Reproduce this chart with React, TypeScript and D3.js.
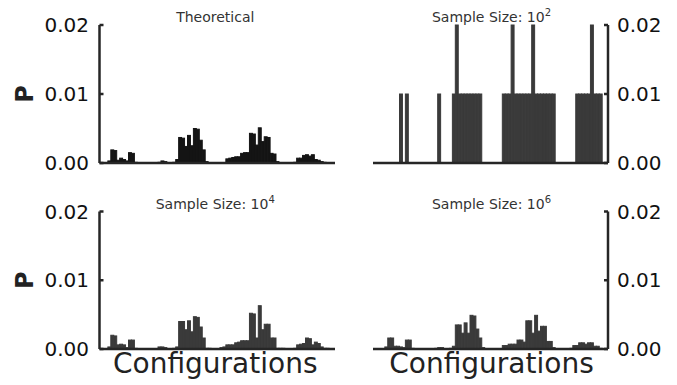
import React from 'react';
import * as d3 from 'd3';

// probabilities per configuration, in units of 1e-4
const UNIT = 1e-4;

const theoretical = [
  0, 0, 0, 3, 19, 18, 4, 7, 5, 3,
  15, 14, 1, 0, 0, 0, 0, 0, 0, 0,
  1, 3, 2, 0, 0, 1, 5, 37, 36, 24,
  40, 25, 50, 49, 33, 19, 2, 0, 0, 0,
  0, 0, 0, 6, 7, 8, 9, 9, 14, 15,
  15, 43, 42, 26, 51, 31, 38, 37, 14, 13,
  2, 0, 0, 0, 0, 0, 1, 7, 7, 11,
  12, 10, 12, 5, 4, 2, 1, 0, 0, 0,
];

const sample1e2 = [
  0, 0, 0, 0, 0, 0, 0, 0, 100, 0,
  100, 0, 0, 0, 0, 0, 0, 0, 0, 0,
  0, 100, 0, 0, 0, 0, 100, 200, 100, 100,
  100, 100, 100, 100, 100, 100, 0, 0, 0, 0,
  0, 0, 0, 100, 100, 100, 200, 100, 100, 100,
  100, 100, 100, 200, 100, 100, 100, 100, 100, 100,
  100, 0, 0, 0, 0, 0, 0, 0, 100, 100,
  100, 100, 100, 200, 100, 100, 100, 0, 0, 0,
];

const sample1e4 = [
  0, 0, 0, 3, 20, 19, 6, 7, 6, 2,
  13, 13, 1, 0, 0, 0, 0, 0, 0, 0,
  3, 3, 2, 0, 0, 1, 3, 40, 40, 28,
  41, 25, 47, 46, 32, 16, 1, 1, 0, 0,
  0, 2, 3, 6, 6, 6, 9, 10, 12, 12,
  12, 52, 51, 16, 63, 28, 36, 36, 16, 16,
  1, 1, 1, 0, 0, 0, 1, 6, 7, 8,
  16, 15, 6, 10, 8, 3, 1, 1, 0, 0,
];

const sample1e6 = [
  0, 0, 0, 3, 16, 16, 4, 4, 3, 2,
  13, 13, 1, 0, 0, 0, 0, 0, 0, 0,
  1, 2, 2, 0, 0, 1, 4, 35, 35, 23,
  38, 23, 49, 48, 29, 16, 2, 0, 0, 0,
  0, 0, 0, 5, 5, 7, 7, 7, 13, 13,
  10, 41, 41, 23, 49, 26, 33, 33, 11, 11,
  2, 0, 0, 0, 0, 0, 1, 5, 5, 9,
  9, 7, 9, 9, 4, 4, 1, 0, 0, 0,
];

const yTicks = [0, 0.01, 0.02];
const yTickLabels = ['0.00', '0.01', '0.02'];

const FONT = '"DejaVu Sans", sans-serif';
const INK = '#262626';

type PanelProps = {
  values: number[];
  title: string;
  sup?: string;
  side: 'left' | 'right';
  row: 0 | 1;
  fill: string;
};

const Panel = ({ values, title, sup, side, row, fill }: PanelProps) => {
  const yRange = row === 0 ? [163, 25] : [349, 211.5];
  const axisX = side === 'left' ? [99.5, 335] : [373, 608];
  const barX = side === 'left' ? [99, 335] : [376, 611];

  const y = d3.scaleLinear().domain([0, 0.02]).range(yRange);
  const x = d3.scaleLinear().domain([0, values.length]).range(barX);

  const spineX = side === 'left' ? axisX[0] : axisX[1];
  const tickDir = side === 'left' ? 1 : -1;
  const cx = (axisX[0] + axisX[1]) / 2 - (side === 'left' ? 2 : -1);

  return (
    <g>
      {values.map((v, i) =>
        v > 0 ? (
          <rect
            key={i}
            x={x(i)}
            y={y(v * UNIT)}
            width={x(i + 1) - x(i)}
            height={y(0) - y(v * UNIT)}
            fill={fill}
            stroke={fill}
            strokeWidth={1}
          />
        ) : null
      )}

      {/* x axis line */}
      <line x1={axisX[0]} x2={axisX[1]} y1={y(0)} y2={y(0)} stroke={INK} strokeWidth={2.5} />

      {/* y spine + ticks */}
      <line x1={spineX} x2={spineX} y1={y(0)} y2={y(0.02)} stroke={INK} strokeWidth={2.5} />
      {yTicks.map((t, i) => (
        <g key={t}>
          <line x1={spineX} x2={spineX + tickDir * 4} y1={y(t)} y2={y(t)} stroke={INK} strokeWidth={2.5} />
          <text
            x={side === 'left' ? 89 : 617}
            y={y(t)}
            textAnchor={side === 'left' ? 'end' : 'start'}
            dominantBaseline="central"
            fontFamily={FONT}
            fontSize={20}
            fill="#111"
          >
            {yTickLabels[i]}
          </text>
        </g>
      ))}

      <text
        x={cx}
        y={row === 0 ? 22 : 209}
        textAnchor="middle"
        fontFamily={FONT}
        fontSize={14}
        fill="#333"
      >
        {title}
        {sup && (
          <tspan dy={-6} fontSize={10}>
            {sup}
          </tspan>
        )}
      </text>

      {side === 'left' && (
        <text
          transform={`translate(33,${y(0.01)}) rotate(-90)`}
          textAnchor="middle"
          fontFamily={FONT}
          fontSize={24}
          fontWeight="bold"
          fill="#222"
        >
          P
        </text>
      )}

      {row === 1 && (
        <text x={cx} y={373} textAnchor="middle" fontFamily={FONT} fontSize={28} fill="#222">
          Configurations
        </text>
      )}
    </g>
  );
};

const App = () => (
  <svg
    width={677}
    height={385}
    style={{ position: 'absolute', left: 0, top: 0, background: '#fff' }}
  >
    <Panel values={theoretical} title="Theoretical" side="left" row={0} fill="#141414" />
    <Panel values={sample1e2} title="Sample Size: 10" sup="2" side="right" row={0} fill="#3a3a3a" />
    <Panel values={sample1e4} title="Sample Size: 10" sup="4" side="left" row={1} fill="#3a3a3a" />
    <Panel values={sample1e6} title="Sample Size: 10" sup="6" side="right" row={1} fill="#3a3a3a" />
  </svg>
);

export default App;
